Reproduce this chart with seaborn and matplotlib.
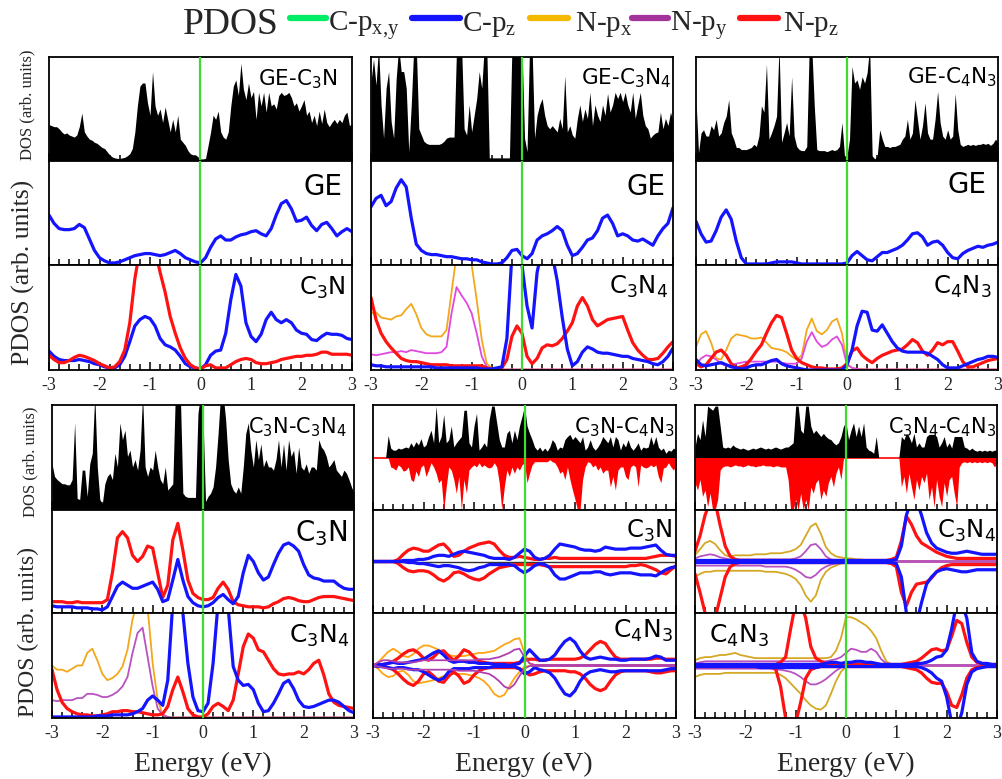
import numpy as np
import matplotlib
matplotlib.use("Agg")
import matplotlib.pyplot as plt
import seaborn as sns
from matplotlib.lines import Line2D
from matplotlib.ticker import MultipleLocator

# ---------------------------------------------------------------------------
# Total DOS (arb. units, % of panel height), sampled every 0.05 eV on [-3, 3]
# ---------------------------------------------------------------------------
DOS_GE_C3N = [
    35, 34, 33, 33, 31, 28, 26, 27, 25, 24,
    23, 25, 33, 46, 28, 24, 21, 20, 18, 17,
    15, 13, 12, 9, 6, 4, 3, 2.5, 2.5, 3,
    3.5, 5, 7, 12, 28, 53, 72, 75, 75, 56,
    44, 86, 53, 44, 50, 37, 52, 40, 28, 40,
    28, 44, 21, 18, 15, 10, 7, 6, 6, 4,
    2, 2, 2.5, 15, 28, 44, 40, 48, 28, 23,
    21, 28, 53, 72, 78, 63, 94, 69, 59, 75,
    61, 67, 40, 66, 53, 66, 47, 66, 53, 55,
    50, 63, 66, 63, 64, 66, 61, 53, 56, 48,
    53, 59, 44, 48, 37, 44, 34, 48, 36, 50,
    37, 33, 37, 40, 36, 40, 37, 44, 47, 34,
    36]

DOS_GE_C3N4 = [
    76, 98, 73, 110, 54, 22, 70, 86, 38, 22,
    79, 110, 86, 86, 70, 9, 54, 110, 110, 31,
    25, 19, 17, 16, 16, 16, 16, 16, 17, 19,
    22, 23, 23, 23, 110, 110, 110, 31, 25, 54,
    28, 44, 60, 86, 70, 110, 110, 3, 3, 3,
    3, 3, 3, 3, 3, 3, 110, 110, 110, 110,
    110, 22, 9, 110, 110, 22, 44, 54, 60, 44,
    34, 31, 34, 31, 28, 41, 31, 82, 28, 34,
    25, 22, 41, 54, 38, 50, 41, 66, 34, 54,
    44, 38, 54, 44, 65, 47, 54, 66, 60, 66,
    57, 66, 54, 47, 66, 41, 54, 66, 44, 34,
    31, 22, 25, 27, 28, 47, 31, 41, 34, 47,
    38]

DOS_GE_C4N3 = [
    59, 8, 27, 30, 24, 24, 34, 30, 40, 24,
    27, 37, 43, 59, 27, 21, 13, 13, 11, 11,
    11, 12, 13, 16, 14, 24, 53, 47, 93, 21,
    27, 34, 43, 110, 18, 27, 37, 24, 81, 24,
    14, 11, 10, 10, 14, 110, 110, 53, 11, 10,
    10, 10, 9, 10, 11, 10, 11, 14, 37, 5,
    5, 21, 91, 75, 78, 69, 81, 75, 85, 110,
    5, 2, 5, 30, 21, 14, 14, 13, 14, 14,
    15, 16, 21, 24, 40, 21, 27, 59, 40, 21,
    34, 56, 27, 21, 21, 40, 67, 37, 24, 21,
    30, 21, 24, 65, 30, 16, 14, 15, 16, 15,
    16, 15, 16, 16, 17, 16, 17, 15, 17, 21,
    18]

DOS_C3N_C3N4 = [
    44, 32, 29, 27, 25, 25, 24, 24, 29, 83,
    11, 10, 38, 38, 13, 44, 54, 110, 41, 10,
    6, 25, 32, 35, 29, 54, 41, 83, 67, 76,
    51, 57, 41, 48, 38, 57, 110, 41, 32, 41,
    38, 57, 41, 29, 25, 41, 19, 22, 25, 110,
    110, 110, 16, 13, 12, 12, 12, 12, 92, 110,
    89, 8, 13, 16, 22, 41, 73, 110, 110, 86,
    48, 25, 19, 16, 22, 16, 41, 73, 83, 57,
    41, 67, 48, 63, 41, 48, 41, 41, 38, 48,
    67, 41, 63, 38, 67, 51, 57, 35, 60, 41,
    38, 44, 35, 41, 41, 38, 67, 60, 57, 51,
    41, 44, 48, 38, 35, 32, 38, 35, 29, 22,
    16]

DOS_C3N_C4N3_UP = [
    0, 0, 0, 0, 0, 0, 21, 9, 7, 7,
    9, 8, 9, 10, 9, 14, 10, 15, 12, 18,
    10, 12, 20, 26, 14, 49, 14, 20, 41, 14,
    17, 30, 10, 14, 17, 20, 45, 45, 14, 10,
    30, 42, 7, 10, 14, 10, 36, 49, 49, 33,
    17, 10, 10, 23, 26, 14, 26, 17, 30, 39,
    49, 30, 23, 17, 10, 7, 10, 6, 9, 6,
    10, 17, 14, 7, 10, 9, 17, 20, 22, 17,
    20, 17, 14, 20, 7, 10, 17, 10, 7, 10,
    14, 20, 17, 14, 20, 10, 20, 17, 7, 14,
    10, 17, 10, 7, 10, 14, 7, 10, 9, 10,
    20, 12, 20, 10, 7, 9, 4, 7, 6, 9,
    7]

DOS_C3N_C4N3_DN = [
    0, 0, 0, 0, 0, 0, 0, -9, -10, -12,
    -7, -9, -13, -12, -9, -21, -23, -13, -18, -9,
    -7, -18, -12, -5, -9, -15, -24, -21, -50, -28,
    -9, -12, -21, -34, -18, -50, -21, -34, -12, -9,
    -7, -9, -5, -9, -7, -9, -10, -9, -5, -9,
    -24, -50, -28, -12, -18, -9, -15, -9, -12, -7,
    -5, -24, -15, -7, -4, -4, -4, -4, -4, -4,
    -2, -4, -5, -9, -15, -13, -21, -9, -21, -31,
    -40, -50, -50, -21, -9, -4, -5, -9, -7, -12,
    -9, -15, -12, -12, -28, -18, -31, -12, -9, -9,
    -18, -21, -9, -7, -9, -28, -7, -9, -10, -9,
    -7, -9, -7, -18, -24, -10, -9, -5, -9, -12,
    -7]

DOS_C3N4_C4N3_UP = [
    10, 23, 17, 36, 20, 49, 47, 45, 49, 49,
    30, 10, 9, 10, 9, 12, 10, 9, 8, 9,
    8, 7, 8, 9, 8, 9, 10, 9, 8, 9,
    8, 9, 10, 9, 8, 9, 10, 10, 12, 14,
    49, 49, 26, 23, 49, 49, 30, 23, 26, 23,
    20, 23, 20, 18, 17, 14, 12, 14, 20, 30,
    33, 17, 26, 33, 20, 30, 20, 33, 10, 7,
    6, 4, 20, 0, 0, 0, 0, 0, 0, 0,
    0, 0, 20, 17, 23, 20, 14, 23, 10, 14,
    10, 10, 20, 22, 22, 22, 20, 10, 14, 20,
    10, 14, 9, 20, 20, 20, 20, 10, 9, 7,
    9, 7, 6, 7, 6, 7, 6, 7, 6, 7,
    7]

DOS_C3N4_C4N3_DN = [
    -24, -31, -21, -37, -31, -47, -34, -50, -50, -40,
    -12, -9, -8, -8, -9, -8, -7, -8, -8, -9,
    -8, -7, -8, -8, -9, -8, -8, -7, -8, -8,
    -8, -9, -8, -8, -9, -9, -9, -21, -50, -50,
    -40, -50, -34, -50, -40, -50, -28, -34, -24, -21,
    -40, -31, -37, -24, -18, -28, -15, -9, -21, -1,
    0, 0, 0, 0, 0, 0, 0, 0, 0, 0,
    0, 0, 0, 0, 0, 0, 0, 0, 0, 0,
    0, 0, -28, -18, -34, -15, -28, -40, -21, -31,
    -18, -24, -15, -40, -28, -47, -21, -37, -47, -24,
    -37, -21, -18, -34, -47, -9, -5, -4, -5, -4,
    -5, -4, -5, -4, -5, -4, -5, -4, -5, -9,
    -5]

# ---------------------------------------------------------------------------
# Projected DOS (arb. units), sampled every 0.1 eV on [-3, 3]
# ---------------------------------------------------------------------------
# GE / C3N
GE1_CPZ = [48, 40, 35, 34, 34, 35, 39, 36, 25, 14,
           7, 4, 2, 2, 3, 5, 7, 9, 10, 11,
           11, 10, 9, 10, 12, 14, 11, 7, 5, 3,
           2, 7, 17, 25, 28, 24, 24, 27, 29, 30,
           32, 33, 30, 28, 35, 48, 59, 62, 54, 42,
           43, 46, 38, 33, 39, 41, 35, 28, 32, 35,
           32]
C3N1_CPZ = [18, 13, 10, 9, 9, 9, 10, 9, 8, 6,
            5, 3, 2, 2, 5, 13, 27, 42, 48, 51,
            49, 42, 30, 24, 22, 19, 13, 6, 3, 2,
            1, 5, 14, 18, 19, 35, 67, 91, 80, 45,
            32, 27, 34, 48, 55, 48, 45, 48, 45, 38,
            35, 34, 29, 28, 32, 35, 34, 34, 33, 30,
            29]
C3N1_NPZ = [14, 10, 7, 7, 9, 12, 14, 13, 11, 9,
            6, 4, 2, 3, 8, 19, 45, 87, 115, 115,
            115, 115, 93, 74, 51, 35, 21, 11, 5, 2,
            1, 4, 5, 2, 2, 2, 5, 8, 10, 11,
            10, 7, 6, 6, 7, 8, 10, 11, 12, 13,
            13, 14, 14, 15, 17, 17, 15, 15, 15, 15,
            14]

# GE / C3N4
GE2_CPZ = [56, 64, 67, 57, 61, 74, 82, 75, 45, 20,
           14, 11, 10, 10, 9, 8, 8, 7, 6, 6,
           5, 5, 3, 2, 1, 1, 2, 7, 14, 15,
           9, 6, 11, 24, 28, 30, 33, 37, 33, 19,
           9, 11, 17, 24, 26, 33, 45, 48, 40, 28,
           30, 28, 24, 23, 25, 22, 19, 28, 35, 40,
           55]
C3N4_2_CPZ = [5, 4, 4, 3, 3, 3, 3, 3, 3, 3,
              3, 3, 3, 2, 2, 2, 2, 2, 2, 2,
              2, 2, 1, 1, 1, 2, 3, 30, 110, 115,
              100, 61, 40, 93, 115, 115, 110, 85, 50, 20,
              4, 8, 17, 22, 20, 17, 16, 16, 15, 14,
              13, 13, 11, 10, 9, 8, 6, 5, 8, 13,
              21]
C3N4_2_NPZ = [69, 48, 35, 27, 21, 16, 11, 9, 8, 8,
              7, 6, 5, 5, 5, 5, 4, 4, 4, 4,
              4, 4, 4, 2, 1, 1, 2, 10, 32, 42,
              35, 13, 6, 11, 21, 24, 23, 25, 30, 37,
              45, 61, 69, 61, 48, 42, 45, 48, 49, 50,
              51, 38, 26, 19, 14, 10, 10, 11, 16, 22,
              27]
C3N4_2_NPX = [54, 55, 50, 49, 48, 51, 52, 58, 63, 53,
              40, 34, 32, 32, 32, 38, 74, 110, 115, 115,
              100, 67, 29, 6, 2, 1, 0.5, 0.5, 0.5, 0.5,
              0.5, 0.5, 0.5, 0.5, 0.5, 0.5, 0.5, 0.5, 0.5, 0.5,
              0.5, 0.5, 0.5, 0.5, 0.5, 0.5, 0.5, 0.5, 0.5, 0.5,
              0.5, 0.5, 0.5, 0.5, 0.5, 0.5, 0.5, 0.5, 0.5, 0.5,
              0.5]
C3N4_2_NPY = [15, 14, 15, 16, 17, 17, 18, 17, 19, 18,
              17, 16, 16, 16, 17, 22, 54, 79, 71, 64,
              54, 35, 13, 3, 1, 0.5, 0.5, 0.5, 0.5, 0.5,
              0.5, 0.5, 0.5, 0.5, 0.5, 0.5, 0.5, 0.5, 0.5, 0.5,
              0.5, 0.5, 0.5, 0.5, 0.5, 0.5, 0.5, 0.5, 0.5, 0.5,
              0.5, 0.5, 0.5, 0.5, 0.5, 0.5, 0.5, 0.5, 0.5, 0.5,
              0.5]

# GE / C4N3
GE3_CPZ = [42, 30, 22, 23, 33, 46, 53, 44, 23, 7,
           1, 1, 1, 1, 1, 2, 3, 3, 3, 3,
           2, 1, 1, 1, 1, 1, 1, 1, 1, 1,
           2, 9, 13, 9, 5, 4, 8, 12, 12, 14,
           16, 19, 24, 30, 31, 27, 19, 22, 23, 19,
           12, 7, 6, 11, 14, 16, 18, 17, 19, 20,
           22]
C4N3_3_CPZ = [10, 5, 4, 5, 6, 7, 5, 3, 2, 1,
              2, 4, 5, 5, 7, 9, 10, 6, 4, 3,
              2, 1, 0, 0, 0, 0, 0, 0, 0, 0,
              5, 19, 42, 56, 55, 38, 37, 43, 35, 27,
              21, 18, 17, 17, 17, 17, 16, 13, 10, 5,
              2, 2, 2, 4, 6, 8, 10, 11, 13, 13,
              12]
C4N3_3_NPZ = [6, 3, 5, 11, 17, 19, 14, 6, 2, 3,
              5, 11, 18, 24, 35, 45, 52, 50, 35, 19,
              11, 7, 5, 3, 2, 2, 1, 1, 1, 2,
              6, 18, 21, 14, 10, 7, 11, 14, 16, 18,
              19, 20, 24, 29, 26, 18, 14, 19, 26, 24,
              27, 27, 18, 8, 3, 3, 5, 7, 9, 10,
              11]
C4N3_3_NPX = [22, 34, 37, 26, 11, 10, 19, 30, 34, 33,
              32, 30, 30, 31, 26, 21, 20, 19, 17, 13,
              10, 14, 38, 49, 37, 34, 38, 46, 49, 35,
              6, 2, 1, 1, 0.5, 0.5, 0.5, 0.5, 0.5, 0.5,
              0.5, 0.5, 0.5, 0.5, 0.5, 0.5, 0.5, 0.5, 0.5, 0.5,
              0.5, 0.5, 0.5, 0.5, 0.5, 0.5, 0.5, 0.5, 0.5, 0.5,
              0.5]
C4N3_3_NPY = [5, 11, 14, 13, 10, 6, 4, 5, 6, 7,
              8, 8, 8, 8, 8, 8, 8, 7, 6, 6,
              6, 11, 27, 36, 27, 22, 24, 29, 32, 24,
              5, 2, 1, 0.5, 0.5, 0.5, 0.5, 0.5, 0.5, 0.5,
              0.5, 0.5, 0.5, 0.5, 0.5, 0.5, 0.5, 0.5, 0.5, 0.5,
              0.5, 0.5, 0.5, 0.5, 0.5, 0.5, 0.5, 0.5, 0.5, 0.5,
              0.5]

# C3N / C3N4
C3N4_C3N_CPZ = [7, 6, 6, 6, 6, 5, 5, 5, 4, 4,
                3, 6, 16, 26, 30, 27, 24, 24, 26, 28,
                30, 23, 11, 13, 32, 52, 32, 16, 10, 7,
                6, 7, 10, 15, 18, 13, 9, 16, 39, 56,
                50, 39, 32, 35, 47, 58, 66, 68, 65, 60,
                47, 37, 34, 33, 31, 31, 31, 27, 24, 23,
                23]
C3N4_C3N_NPZ = [11, 11, 11, 10, 10, 11, 10, 10, 10, 10,
                10, 13, 39, 73, 79, 73, 56, 50, 55, 65,
                63, 39, 15, 27, 71, 87, 61, 32, 19, 15,
                13, 13, 15, 24, 30, 23, 11, 8, 7, 6,
                6, 6, 5, 6, 9, 11, 14, 15, 14, 12,
                11, 11, 13, 15, 16, 16, 16, 15, 14, 13,
                12]
C3N4_C3N4_CPZ = [1, 1, 1, 1, 1, 1, 1, 1, 1, 2,
                 2, 2, 3, 3, 3, 3, 4, 6, 9, 17,
                 21, 17, 12, 36, 110, 115, 100, 52, 20, 7,
                 6, 14, 52, 110, 115, 105, 49, 36, 31, 32,
                 27, 14, 6, 7, 14, 23, 33, 36, 28, 17,
                 11, 10, 11, 13, 15, 17, 17, 15, 11, 7,
                 5]
C3N4_C3N4_NPZ = [46, 27, 15, 9, 6, 4, 3, 3, 2, 2,
                 3, 4, 6, 6, 7, 7, 6, 6, 5, 4,
                 3, 3, 4, 11, 27, 39, 25, 9, 3, 1,
                 1, 4, 11, 14, 11, 7, 17, 42, 68, 80,
                 76, 65, 63, 55, 47, 42, 41, 42, 42, 44,
                 42, 46, 52, 55, 41, 23, 15, 12, 11, 10,
                 9]
C3N4_C3N4_NPX = [50, 46, 46, 44, 47, 50, 50, 62, 66, 55,
                 42, 36, 38, 42, 49, 65, 94, 110, 115, 105,
                 52, 17, 3, 1, 0.5, 0.5, 0.5, 0.5, 0.5, 0.5,
                 0.5, 0.5, 0.5, 0.5, 0.5, 0.5, 0.5, 0.5, 0.5, 0.5,
                 0.5, 0.5, 0.5, 0.5, 0.5, 0.5, 0.5, 0.5, 0.5, 0.5,
                 0.5, 0.5, 0.5, 0.5, 0.5, 0.5, 0.5, 0.5, 0.5, 0.5,
                 0.5]
C3N4_C3N4_NPY = [17, 16, 17, 17, 17, 19, 19, 23, 23, 22,
                 20, 20, 22, 25, 30, 39, 62, 81, 86, 58,
                 30, 9, 3, 1, 0.5, 0.5, 0.5, 0.5, 0.5, 0.5,
                 0.5, 0.5, 0.5, 0.5, 0.5, 0.5, 0.5, 0.5, 0.5, 0.5,
                 0.5, 0.5, 0.5, 0.5, 0.5, 0.5, 0.5, 0.5, 0.5, 0.5,
                 0.5, 0.5, 0.5, 0.5, 0.5, 0.5, 0.5, 0.5, 0.5, 0.5,
                 0.5]

# C3N / C4N3 (spin up > 0, spin down < 0)
C4N3_C3N_CPZ_UP = [0, 0, 0, 0, 0, 0, 1, 1, 1, 2,
                   2, 3, 5, 6, 6, 5, 7, 9, 10, 9,
                   8, 7, 6, 4, 3, 3, 3, 2, 4, 8,
                   12, 10, 4, 2, 3, 6, 12, 17, 16, 15,
                   14, 12, 11, 11, 10, 11, 14, 13, 12, 12,
                   12, 13, 13, 13, 14, 15, 16, 11, 7, 6,
                   6]
C4N3_C3N_CPZ_DN = [0, 0, 0, 0, 0, 0, 0, -1, -1, -2,
                   -2, -3, -4, -5, -4, -4, -5, -6, -8, -9,
                   -8, -6, -5, -3, -3, -3, -3, -3, -4, -8,
                   -11, -8, -4, -2, -3, -6, -13, -17, -17, -15,
                   -13, -11, -11, -11, -10, -10, -12, -13, -12, -11,
                   -11, -11, -12, -13, -13, -13, -14, -11, -8, -6,
                   -5]
C4N3_C3N_NPZ_UP = [0, 0, 0, 0, 0, 2, 7, 11, 13, 12,
                   10, 10, 13, 16, 17, 12, 5, 6, 10, 13,
                   15, 17, 18, 19, 17, 11, 6, 4, 4, 5,
                   4, 3, 2, 2, 3, 3, 4, 3, 3, 3,
                   3, 3, 3, 3, 3, 3, 3, 3, 3, 3,
                   3, 3, 3, 3, 3, 4, 5, 6, 6, 6,
                   5]
C4N3_C3N_NPZ_DN = [0, 0, 0, 0, 0, -2, -6, -9, -10, -9,
                   -9, -10, -13, -17, -19, -16, -11, -10, -12, -15,
                   -17, -18, -16, -12, -9, -6, -5, -4, -3, -3,
                   -3, -3, -3, -3, -4, -5, -5, -5, -5, -5,
                   -5, -5, -5, -5, -5, -5, -5, -5, -5, -5,
                   -5, -4, -4, -3, -4, -6, -8, -11, -12, -8,
                   -4]
C4N3_C4N3_CPZ_UP = [0, 1, 1, 2, 3, 2, 2, 3, 4, 5,
                    6, 9, 12, 14, 10, 5, 3, 4, 4, 3,
                    3, 2, 2, 2, 1, 1, 1, 0, 1, 2,
                    9, 15, 10, 5, 5, 6, 10, 17, 23, 26,
                    22, 14, 8, 6, 7, 8, 7, 6, 6, 5,
                    5, 6, 6, 6, 6, 7, 9, 8, 5, 5,
                    5]
C4N3_C4N3_CPZ_DN = [0, -1, -1, -2, -3, -2, -2, -3, -4, -4,
                    -6, -9, -12, -14, -12, -6, -3, -3, -3, -3,
                    -2, -2, -2, -2, -1, -1, -1, -1, -1, -3,
                    -8, -6, -2, -4, -5, -7, -12, -20, -27, -29,
                    -24, -15, -9, -6, -5, -4, -5, -6, -6, -5,
                    -5, -5, -5, -5, -5, -5, -5, -5, -4, -3,
                    -3]
C4N3_C4N3_NPZ_UP = [0, 0, 1, 2, 4, 7, 11, 14, 15, 12,
                    7, 5, 8, 13, 14, 9, 5, 9, 15, 13,
                    8, 4, 3, 2, 2, 2, 2, 2, 2, 3,
                    5, 6, 6, 5, 5, 6, 6, 6, 6, 6,
                    6, 7, 10, 15, 20, 23, 21, 14, 8, 6,
                    6, 6, 6, 6, 6, 6, 7, 7, 6, 6,
                    6]
C4N3_C4N3_NPZ_DN = [0, 0, -1, -2, -4, -8, -13, -17, -19, -15,
                    -8, -6, -10, -15, -16, -10, -6, -10, -17, -15,
                    -9, -5, -3, -2, -2, -2, -2, -2, -2, -3,
                    -6, -9, -8, -6, -5, -5, -5, -5, -5, -6,
                    -6, -8, -12, -18, -22, -24, -22, -15, -9, -6,
                    -5, -5, -5, -5, -5, -6, -7, -7, -6, -5,
                    -5]
C4N3_C4N3_NPX_UP = [0, 3, 8, 13, 16, 13, 9, 8, 11, 16,
                    19, 19, 17, 15, 12, 10, 9, 9, 9, 10,
                    11, 12, 12, 13, 14, 17, 20, 22, 25, 26,
                    12, 2, 0.5, 0.5, 0.5, 0.5, 0.5, 0.5, 0.5, 0.5,
                    0.5, 0.5, 0.5, 0.5, 0.5, 0.5, 0.5, 0.5, 0.5, 0.5,
                    0.5, 0.5, 0.5, 0.5, 0.5, 0.5, 0.5, 0.5, 0.5, 0.5,
                    0.5]
C4N3_C4N3_NPX_DN = [0, -3, -8, -11, -10, -6, -5, -9, -15, -17,
                    -16, -15, -14, -12, -10, -9, -8, -8, -8, -9,
                    -10, -12, -15, -20, -27, -30, -28, -20, -12, -6,
                    -1, -0.5, -0.5, -0.5, -0.5, -0.5, -0.5, -0.5, -0.5, -0.5,
                    -0.5, -0.5, -0.5, -0.5, -0.5, -0.5, -0.5, -0.5, -0.5, -0.5,
                    -0.5, -0.5, -0.5, -0.5, -0.5, -0.5, -0.5, -0.5, -0.5, -0.5,
                    -0.5]
C4N3_C4N3_NPY_UP = [0, 3, 5, 5, 4, 3, 3, 3, 3, 4,
                    5, 5, 5, 5, 5, 5, 5, 5, 5, 5,
                    5, 6, 6, 6, 7, 8, 10, 12, 15, 16,
                    8, 2, 0.5, 0.5, 0.5, 0.5, 0.5, 0.5, 0.5, 0.5,
                    0.5, 0.5, 0.5, 0.5, 0.5, 0.5, 0.5, 0.5, 0.5, 0.5,
                    0.5, 0.5, 0.5, 0.5, 0.5, 0.5, 0.5, 0.5, 0.5, 0.5,
                    0.5]
C4N3_C4N3_NPY_DN = [0, -1, -2, -3, -3, -3, -3, -4, -4, -4,
                    -4, -4, -4, -4, -4, -4, -4, -5, -5, -5,
                    -5, -6, -7, -8, -11, -15, -20, -22, -18, -10,
                    -3, -0.5, -0.5, -0.5, -0.5, -0.5, -0.5, -0.5, -0.5, -0.5,
                    -0.5, -0.5, -0.5, -0.5, -0.5, -0.5, -0.5, -0.5, -0.5, -0.5,
                    -0.5, -0.5, -0.5, -0.5, -0.5, -0.5, -0.5, -0.5, -0.5, -0.5,
                    -0.5]

# C3N4 / C4N3 (spin up > 0, spin down < 0)
C34_C3N4_NPZ_UP = [10, 25, 45, 58, 58, 35, 15, 5, 2, 1,
                   1, 1, 1, 1, 1, 1, 1, 1, 1, 1,
                   1, 1, 1, 1, 1, 1, 1, 1, 1, 1,
                   1, 1, 1, 1, 1, 1, 1, 1, 1, 2,
                   4, 20, 44, 36, 25, 18, 15, 12, 9, 7,
                   5, 4, 3, 3, 3, 3, 3, 3, 3, 3,
                   3]
C34_C3N4_NPZ_DN = [-12, -30, -50, -58, -55, -35, -15, -5, -2, -1,
                   -1, -1, -1, -1, -1, -1, -1, -1, -1, -1,
                   -1, -1, -1, -1, -1, -1, -1, -1, -1, -1,
                   -1, -1, -1, -1, -1, -1, -1, -1, -1, -2,
                   -5, -30, -43, -30, -22, -21, -20, -16, -10, -6,
                   -4, -3, -3, -3, -3, -3, -3, -3, -3, -3,
                   -3]
C34_C3N4_CPZ_UP = [1, 1, 1, 1, 1, 1, 1, 1, 1, 1,
                   1, 1, 1, 1, 1, 1, 1, 1, 1, 1,
                   1, 1, 1, 1, 1, 1, 1, 1, 1, 1,
                   1, 1, 1, 1, 1, 1, 1, 1, 1, 1,
                   2, 15, 45, 60, 60, 45, 28, 18, 13, 11,
                   9, 8, 8, 9, 10, 9, 8, 7, 7, 7,
                   7]
C34_C3N4_CPZ_DN = [-1, -1, -1, -1, -1, -1, -1, -1, -1, -1,
                   -1, -1, -1, -1, -1, -1, -1, -1, -1, -1,
                   -1, -1, -1, -1, -1, -1, -1, -1, -1, -1,
                   -1, -1, -1, -1, -1, -1, -1, -1, -1, -1,
                   -2, -15, -50, -60, -60, -40, -22, -15, -10, -8,
                   -7, -8, -9, -10, -10, -9, -8, -8, -8, -8,
                   -8]
C34_C3N4_NPX_UP = [6, 12, 18, 20, 17, 11, 6, 5, 6, 6,
                   6, 6, 7, 7, 7, 8, 8, 8, 9, 10,
                   12, 16, 25, 34, 37, 27, 14, 8, 5, 4,
                   3, 3, 2, 2, 1, 1, 0.5, 0.5, 0.5, 0.5,
                   0.5, 0.5, 0.5, 0.5, 0.5, 0.5, 0.5, 0.5, 0.5, 0.5,
                   0.5, 0.5, 0.5, 0.5, 0.5, 0.5, 0.5, 0.5, 0.5, 0.5,
                   0.5]
C34_C3N4_NPX_DN = [-15, -12, -10, -10, -9, -9, -9, -9, -9, -9,
                   -9, -9, -9, -9, -10, -10, -10, -11, -12, -14,
                   -17, -23, -33, -39, -33, -18, -10, -6, -4, -2,
                   -1, -0.5, -0.5, -0.5, -0.5, -0.5, -0.5, -0.5, -0.5, -0.5,
                   -0.5, -0.5, -0.5, -0.5, -0.5, -0.5, -0.5, -0.5, -0.5, -0.5,
                   -0.5, -0.5, -0.5, -0.5, -0.5, -0.5, -0.5, -0.5, -0.5, -0.5,
                   -0.5]
C34_C3N4_NPY_UP = [3, 5, 6, 7, 6, 4, 3, 2, 2, 2,
                   2, 2, 2, 2, 2, 2, 2, 2, 2, 2,
                   3, 5, 10, 16, 17, 12, 5, 2, 1, 1,
                   0.5, 0.5, 0.5, 0.5, 0.5, 0.5, 0.5, 0.5, 0.5, 0.5,
                   0.5, 0.5, 0.5, 0.5, 0.5, 0.5, 0.5, 0.5, 0.5, 0.5,
                   0.5, 0.5, 0.5, 0.5, 0.5, 0.5, 0.5, 0.5, 0.5, 0.5,
                   0.5]
C34_C3N4_NPY_DN = [-4, -4, -4, -4, -4, -4, -4, -4, -4, -4,
                   -4, -4, -4, -4, -5, -5, -5, -5, -5, -6,
                   -8, -11, -15, -16, -13, -8, -5, -3, -2, -1,
                   -0.5, -0.5, -0.5, -0.5, -0.5, -0.5, -0.5, -0.5, -0.5, -0.5,
                   -0.5, -0.5, -0.5, -0.5, -0.5, -0.5, -0.5, -0.5, -0.5, -0.5,
                   -0.5, -0.5, -0.5, -0.5, -0.5, -0.5, -0.5, -0.5, -0.5, -0.5,
                   -0.5]
C34_C4N3_NPZ_UP = [1, 1, 1, 1, 1, 1, 1, 1, 1, 1,
                   1, 1, 1, 1, 1, 1, 1, 3, 8, 35,
                   60, 60, 45, 18, 7, 4, 2, 2, 1, 1,
                   1, 1, 1, 1, 1, 1, 1, 1, 1, 1,
                   1, 1, 2, 3, 4, 7, 11, 15, 16, 14,
                   15, 28, 43, 40, 22, 8, 3, 2, 1, 1,
                   1]
C34_C4N3_NPZ_DN = [-1, -1, -1, -1, -1, -1, -1, -1, -1, -1,
                   -1, -1, -1, -1, -1, -1, -3, -20, -50, -60,
                   -55, -35, -12, -4, -2, -1, -1, -1, -1, -1,
                   -1, -1, -1, -1, -1, -1, -1, -1, -1, -1,
                   -1, -1, -2, -3, -4, -7, -12, -16, -17, -17,
                   -25, -38, -40, -28, -12, -4, -2, -1, -1, -1,
                   -1]
C34_C4N3_CPZ_UP = [1, 1, 1, 1, 1, 1, 1, 1, 1, 1,
                   1, 1, 1, 1, 1, 1, 1, 1, 1, 1,
                   1, 1, 1, 1, 1, 1, 2, 3, 3, 2,
                   3, 3, 4, 4, 3, 3, 2, 1, 1, 1,
                   1, 1, 1, 1, 2, 2, 3, 5, 8, 9,
                   15, 35, 60, 60, 45, 12, 4, 2, 2, 1,
                   1]
C34_C4N3_CPZ_DN = [-1, -1, -1, -1, -1, -1, -1, -1, -1, -1,
                   -1, -1, -1, -2, -2, -2, -2, -2, -2, -2,
                   -2, -2, -2, -2, -2, -1, -1, -1, -1, -1,
                   -1, -1, -1, -1, -1, -1, -1, -1, -1, -1,
                   -1, -1, -1, -1, -1, -2, -4, -7, -12, -15,
                   -30, -55, -60, -45, -18, -6, -3, -2, -1, -1,
                   -1]
C34_C4N3_NPX_UP = [5, 7, 8, 8, 9, 10, 10, 11, 12, 10,
                   9, 8, 7, 7, 7, 7, 7, 7, 7, 7,
                   7, 7, 7, 7, 7, 7, 7, 8, 14, 26,
                   46, 46, 44, 41, 38, 33, 26, 14, 4, 1,
                   0.5, 0.5, 0.5, 0.5, 0.5, 0.5, 0.5, 0.5, 0.5, 0.5,
                   0.5, 0.5, 0.5, 0.5, 0.5, 0.5, 0.5, 0.5, 0.5, 0.5,
                   0.5]
C34_C4N3_NPX_DN = [-11, -9, -8, -8, -8, -8, -7, -7, -7, -7,
                   -7, -7, -7, -7, -7, -7, -7, -9, -12, -17,
                   -22, -27, -33, -38, -41, -42, -38, -27, -15, -6,
                   -1, -0.5, -0.5, -0.5, -0.5, -0.5, -0.5, -0.5, -0.5, -0.5,
                   -0.5, -0.5, -0.5, -0.5, -0.5, -0.5, -0.5, -0.5, -0.5, -0.5,
                   -0.5, -0.5, -0.5, -0.5, -0.5, -0.5, -0.5, -0.5, -0.5, -0.5,
                   -0.5]
C34_C4N3_NPY_UP = [2, 3, 4, 4, 4, 4, 4, 4, 4, 4,
                   4, 4, 4, 4, 4, 4, 4, 4, 4, 4,
                   4, 4, 4, 4, 4, 4, 4, 5, 6, 8,
                   12, 16, 15, 13, 13, 16, 13, 6, 2, 1,
                   0.5, 0.5, 0.5, 0.5, 0.5, 0.5, 0.5, 0.5, 0.5, 0.5,
                   0.5, 0.5, 0.5, 0.5, 0.5, 0.5, 0.5, 0.5, 0.5, 0.5,
                   0.5]
C34_C4N3_NPY_DN = [-3, -3, -3, -3, -3, -3, -3, -3, -3, -3,
                   -3, -3, -3, -3, -3, -3, -4, -4, -5, -6,
                   -8, -11, -15, -18, -18, -16, -13, -9, -5, -2,
                   -1, -0.5, -0.5, -0.5, -0.5, -0.5, -0.5, -0.5, -0.5, -0.5,
                   -0.5, -0.5, -0.5, -0.5, -0.5, -0.5, -0.5, -0.5, -0.5, -0.5,
                   -0.5, -0.5, -0.5, -0.5, -0.5, -0.5, -0.5, -0.5, -0.5, -0.5,
                   -0.5]

# Legend entries
LEGEND_LABELS = [r"C-p$_{x,\!y}$", "C-p$_z$", "N-p$_x$", "N-p$_y$", "N-p$_z$"]
XTICKS = [-3, -2, -1, 0, 1, 2, 3]

# ---------------------------------------------------------------------------
# Styling
# ---------------------------------------------------------------------------
sns.set_theme(style="white")
plt.rcParams["font.family"] = ["DejaVu Sans"]
plt.rcParams["mathtext.default"] = "regular"
plt.rcParams["mathtext.fontset"] = "dejavusans"
plt.rcParams["axes.unicode_minus"] = False

BLUE = "#1414ff"
RED = "#ff1212"
GREEN_LEG = "#00ee66"
GREEN_EF = "#3ddc2f"
ORANGE = "#f2a81c"
GOLD = "#d4a825"
MAGENTA = "#e048e0"
PURPLE = "#b852c0"
LEG_COLORS = [GREEN_LEG, BLUE, "#f5b800", "#a3339a", RED]
SERIF = "Liberation Serif"

W, H = 1003, 779
fig = plt.figure(figsize=(W / 100, H / 100), dpi=100)


def axes_px(x0, x1, y0, y1):
    return fig.add_axes([x0 / W, 1 - y1 / H, (x1 - x0) / W, (y1 - y0) / H])


def style_axes(ax, show_labels):
    ax.set_xlim(-3, 3)
    ax.set_xticks(XTICKS)
    ax.xaxis.set_minor_locator(MultipleLocator(0.2))
    ax.set_yticks([])
    ax.tick_params(axis="x", which="both", direction="in", bottom=True,
                   top=False, width=1.1, color="black")
    ax.tick_params(axis="x", which="major", length=6)
    ax.tick_params(axis="x", which="minor", length=4)
    ax.tick_params(axis="x", labelsize=13, pad=5, labelbottom=show_labels)
    for lab in ax.get_xticklabels():
        lab.set_family(SERIF)
    for s in ax.spines.values():
        s.set_color("black")
        s.set_linewidth(1.3)
    ax.set_xlabel("")
    ax.set_ylabel("")
    ax.axvline(0, color=GREEN_EF, lw=1.6, zorder=6)


def draw_dos(ax, up, down=None):
    e = np.linspace(-3, 3, len(up))
    if down is None:
        ax.fill_between(e, 0, up, color="black", lw=0)
        ax.set_ylim(0, 100)
    else:
        ax.axhline(0, color="red", lw=1.2, zorder=1)
        ax.fill_between(e, 0, up, color="black", lw=0, zorder=2)
        ax.fill_between(e, 0, down, color="red", lw=0, zorder=2)
        ax.set_ylim(-50, 50)


def draw_pdos(ax, curves, spin):
    for vals, color, lw in curves:
        e = np.linspace(-3, 3, len(vals))
        sns.lineplot(x=e, y=vals, ax=ax, color=color, lw=lw,
                     estimator=None, legend=False)
    ax.set_ylim(-50, 50) if spin else ax.set_ylim(0, 100)


def label(ax, text, size, right_px=None, left_px=None, top_px=10):
    bb = ax.get_position()
    ax_w = bb.width * W
    ax_h = bb.height * H
    if right_px is not None:
        x, ha = 1 - right_px / ax_w, "right"
    else:
        x, ha = left_px / ax_w, "left"
    ax.text(x, 1 - top_px / ax_h, text, transform=ax.transAxes, ha=ha,
            va="top", size=size, family="DejaVu Sans", color="black", zorder=7)


THICK, THIN = 2.3, 1.3

panels = [
    dict(cols=(49, 352), rows=(57, 161, 265, 370),
         dos=(DOS_GE_C3N, None), dos_label=("GE-C$_3$N", 15.5, 15, 10),
         layers=[
             ([(GE1_CPZ, BLUE, THICK)], False, ("GE", 20, 9, 12, None)),
             ([(C3N1_CPZ, BLUE, THICK), (C3N1_NPZ, RED, THICK)], False,
              ("C$_3$N", 17.5, 7, 10, None)),
         ]),
    dict(cols=(371, 673), rows=(57, 161, 265, 370),
         dos=(DOS_GE_C3N4, None), dos_label=("GE-C$_3$N$_4$", 15.5, 2, 9),
         layers=[
             ([(GE2_CPZ, BLUE, THICK)], False, ("GE", 20, 7, 12, None)),
             ([(C3N4_2_NPX, ORANGE, THIN), (C3N4_2_NPY, MAGENTA, THIN),
               (C3N4_2_NPZ, RED, THICK), (C3N4_2_CPZ, BLUE, THICK)], False,
              ("C$_3$N$_4$", 17.5, 5, 9, None)),
         ]),
    dict(cols=(696, 998), rows=(57, 161, 265, 370),
         dos=(DOS_GE_C4N3, None), dos_label=("GE-C$_4$N$_3$", 15.5, 1, 8),
         layers=[
             ([(GE3_CPZ, BLUE, THICK)], False, ("GE", 20, 11, 10, None)),
             ([(C4N3_3_NPX, ORANGE, THIN), (C4N3_3_NPY, MAGENTA, THIN),
               (C4N3_3_NPZ, RED, THICK), (C4N3_3_CPZ, BLUE, THICK)], False,
              ("C$_4$N$_3$", 17.5, 6, 9, None)),
         ]),
    dict(cols=(52, 354), rows=(405, 510, 613, 718),
         dos=(DOS_C3N_C3N4, None), dos_label=("C$_3$N-C$_3$N$_4$", 15, 7, 10),
         layers=[
             ([(C3N4_C3N_NPZ, RED, THICK), (C3N4_C3N_CPZ, BLUE, THICK)], False,
              ("C$_3$N", 20, 6, 8, None)),
             ([(C3N4_C3N4_NPX, ORANGE, THIN), (C3N4_C3N4_NPY, PURPLE, THIN),
               (C3N4_C3N4_NPZ, RED, THICK), (C3N4_C3N4_CPZ, BLUE, THICK)], False,
              ("C$_3$N$_4$", 18, 4, 10, None)),
         ]),
    dict(cols=(373, 676), rows=(405, 510, 613, 718),
         dos=(DOS_C3N_C4N3_UP, DOS_C3N_C4N3_DN),
         dos_label=("C$_3$N-C$_4$N$_3$", 15.5, 1, 10),
         layers=[
             ([(C4N3_C3N_NPZ_UP, RED, THICK), (C4N3_C3N_NPZ_DN, RED, THICK),
               (C4N3_C3N_CPZ_UP, BLUE, THICK), (C4N3_C3N_CPZ_DN, BLUE, THICK)],
              True, ("C$_3$N", 17.5, 4, 8, None)),
             ([(C4N3_C4N3_NPX_UP, "#ffa514", THIN), (C4N3_C4N3_NPX_DN, "#ffa514", THIN),
               (C4N3_C4N3_NPZ_UP, RED, THICK), (C4N3_C4N3_NPZ_DN, RED, THICK),
               (C4N3_C4N3_CPZ_UP, BLUE, THICK), (C4N3_C4N3_CPZ_DN, BLUE, THICK),
               (C4N3_C4N3_NPY_UP, "#b040b0", THIN), (C4N3_C4N3_NPY_DN, "#b040b0", THIN)],
              True, ("C$_4$N$_3$", 18, 3, 5, None)),
         ]),
    dict(cols=(695, 997), rows=(405, 510, 613, 718),
         dos=(DOS_C3N4_C4N3_UP, DOS_C3N4_C4N3_DN),
         dos_label=("C$_3$N$_4$-C$_4$N$_3$", 15, 1, 10),
         layers=[
             ([(C34_C3N4_NPX_UP, GOLD, THIN), (C34_C3N4_NPX_DN, GOLD, THIN),
               (C34_C3N4_NPY_UP, PURPLE, THIN), (C34_C3N4_NPY_DN, PURPLE, THIN),
               (C34_C3N4_NPZ_UP, RED, THICK), (C34_C3N4_NPZ_DN, RED, THICK),
               (C34_C3N4_CPZ_UP, BLUE, THICK), (C34_C3N4_CPZ_DN, BLUE, THICK)],
              True, ("C$_3$N$_4$", 17.5, 1, 8, None)),
             ([(C34_C4N3_NPX_UP, GOLD, THIN), (C34_C4N3_NPX_DN, GOLD, THIN),
               (C34_C4N3_NPY_UP, PURPLE, THIN), (C34_C4N3_NPY_DN, PURPLE, THIN),
               (C34_C4N3_NPZ_UP, RED, THICK), (C34_C4N3_NPZ_DN, RED, THICK),
               (C34_C4N3_CPZ_UP, BLUE, THICK), (C34_C4N3_CPZ_DN, BLUE, THICK)],
              True, ("C$_4$N$_3$", 18, None, 10, 14)),
         ]),
]

for p in panels:
    x0, x1 = p["cols"]
    r = p["rows"]
    ax_dos = axes_px(x0, x1, r[0], r[1])
    draw_dos(ax_dos, *p["dos"])
    style_axes(ax_dos, False)
    txt, sz, rpx, tpx = p["dos_label"]
    label(ax_dos, txt, sz, right_px=rpx, top_px=tpx)
    for i, (curves, spin, lab) in enumerate(p["layers"]):
        ax = axes_px(x0, x1, r[i + 1], r[i + 2])
        if spin and i == 0 and p["cols"][0] == 373:
            ax.axhline(0, color="#333333", lw=1.0, zorder=1)
        draw_pdos(ax, curves, spin)
        style_axes(ax, i == 1)
        t, s, rpx, tpx, lpx = lab
        if rpx is not None:
            label(ax, t, s, right_px=rpx, top_px=tpx)
        else:
            label(ax, t, s, left_px=lpx, top_px=tpx)

# Axis titles
for xc in (203, 524, 846):
    fig.text(xc / W, 1 - 764 / H, "Energy (eV)", ha="center", va="center",
             family=SERIF, size=20)
fig.text(27 / W, 1 - 105 / H, "DOS (arb. units)", rotation=90, ha="center",
         va="center", family=SERIF, size=12)
fig.text(23 / W, 1 - 272 / H, "PDOS (arb. units)", rotation=90, ha="center",
         va="center", family=SERIF, size=18.5)
fig.text(30 / W, 1 - 462 / H, "DOS (arb. units)", rotation=90, ha="center",
         va="center", family=SERIF, size=12)
fig.text(28 / W, 1 - 632 / H, "PDOS (arb. units)", rotation=90, ha="center",
         va="center", family=SERIF, size=17)

# Legend across the top
fig.text(183 / W, 1 - 34 / H, "PDOS", family=SERIF, size=27, va="baseline")
line_spans = [(290, 326), (412, 460), (530, 568), (632, 668), (740, 778)]
text_left = [328, 462, 575, 670, 783]
for (lx0, lx1), tx, lab, col in zip(line_spans, text_left, LEGEND_LABELS, LEG_COLORS):
    fig.add_artist(Line2D([lx0 / W, lx1 / W], [1 - 18 / H, 1 - 18 / H],
                          transform=fig.transFigure, color=col, lw=4.5))
    fig.text(tx / W, 1 - 31 / H, lab, family=SERIF, size=21, va="baseline")

fig.savefig("out.png", dpi=100, facecolor="white")
